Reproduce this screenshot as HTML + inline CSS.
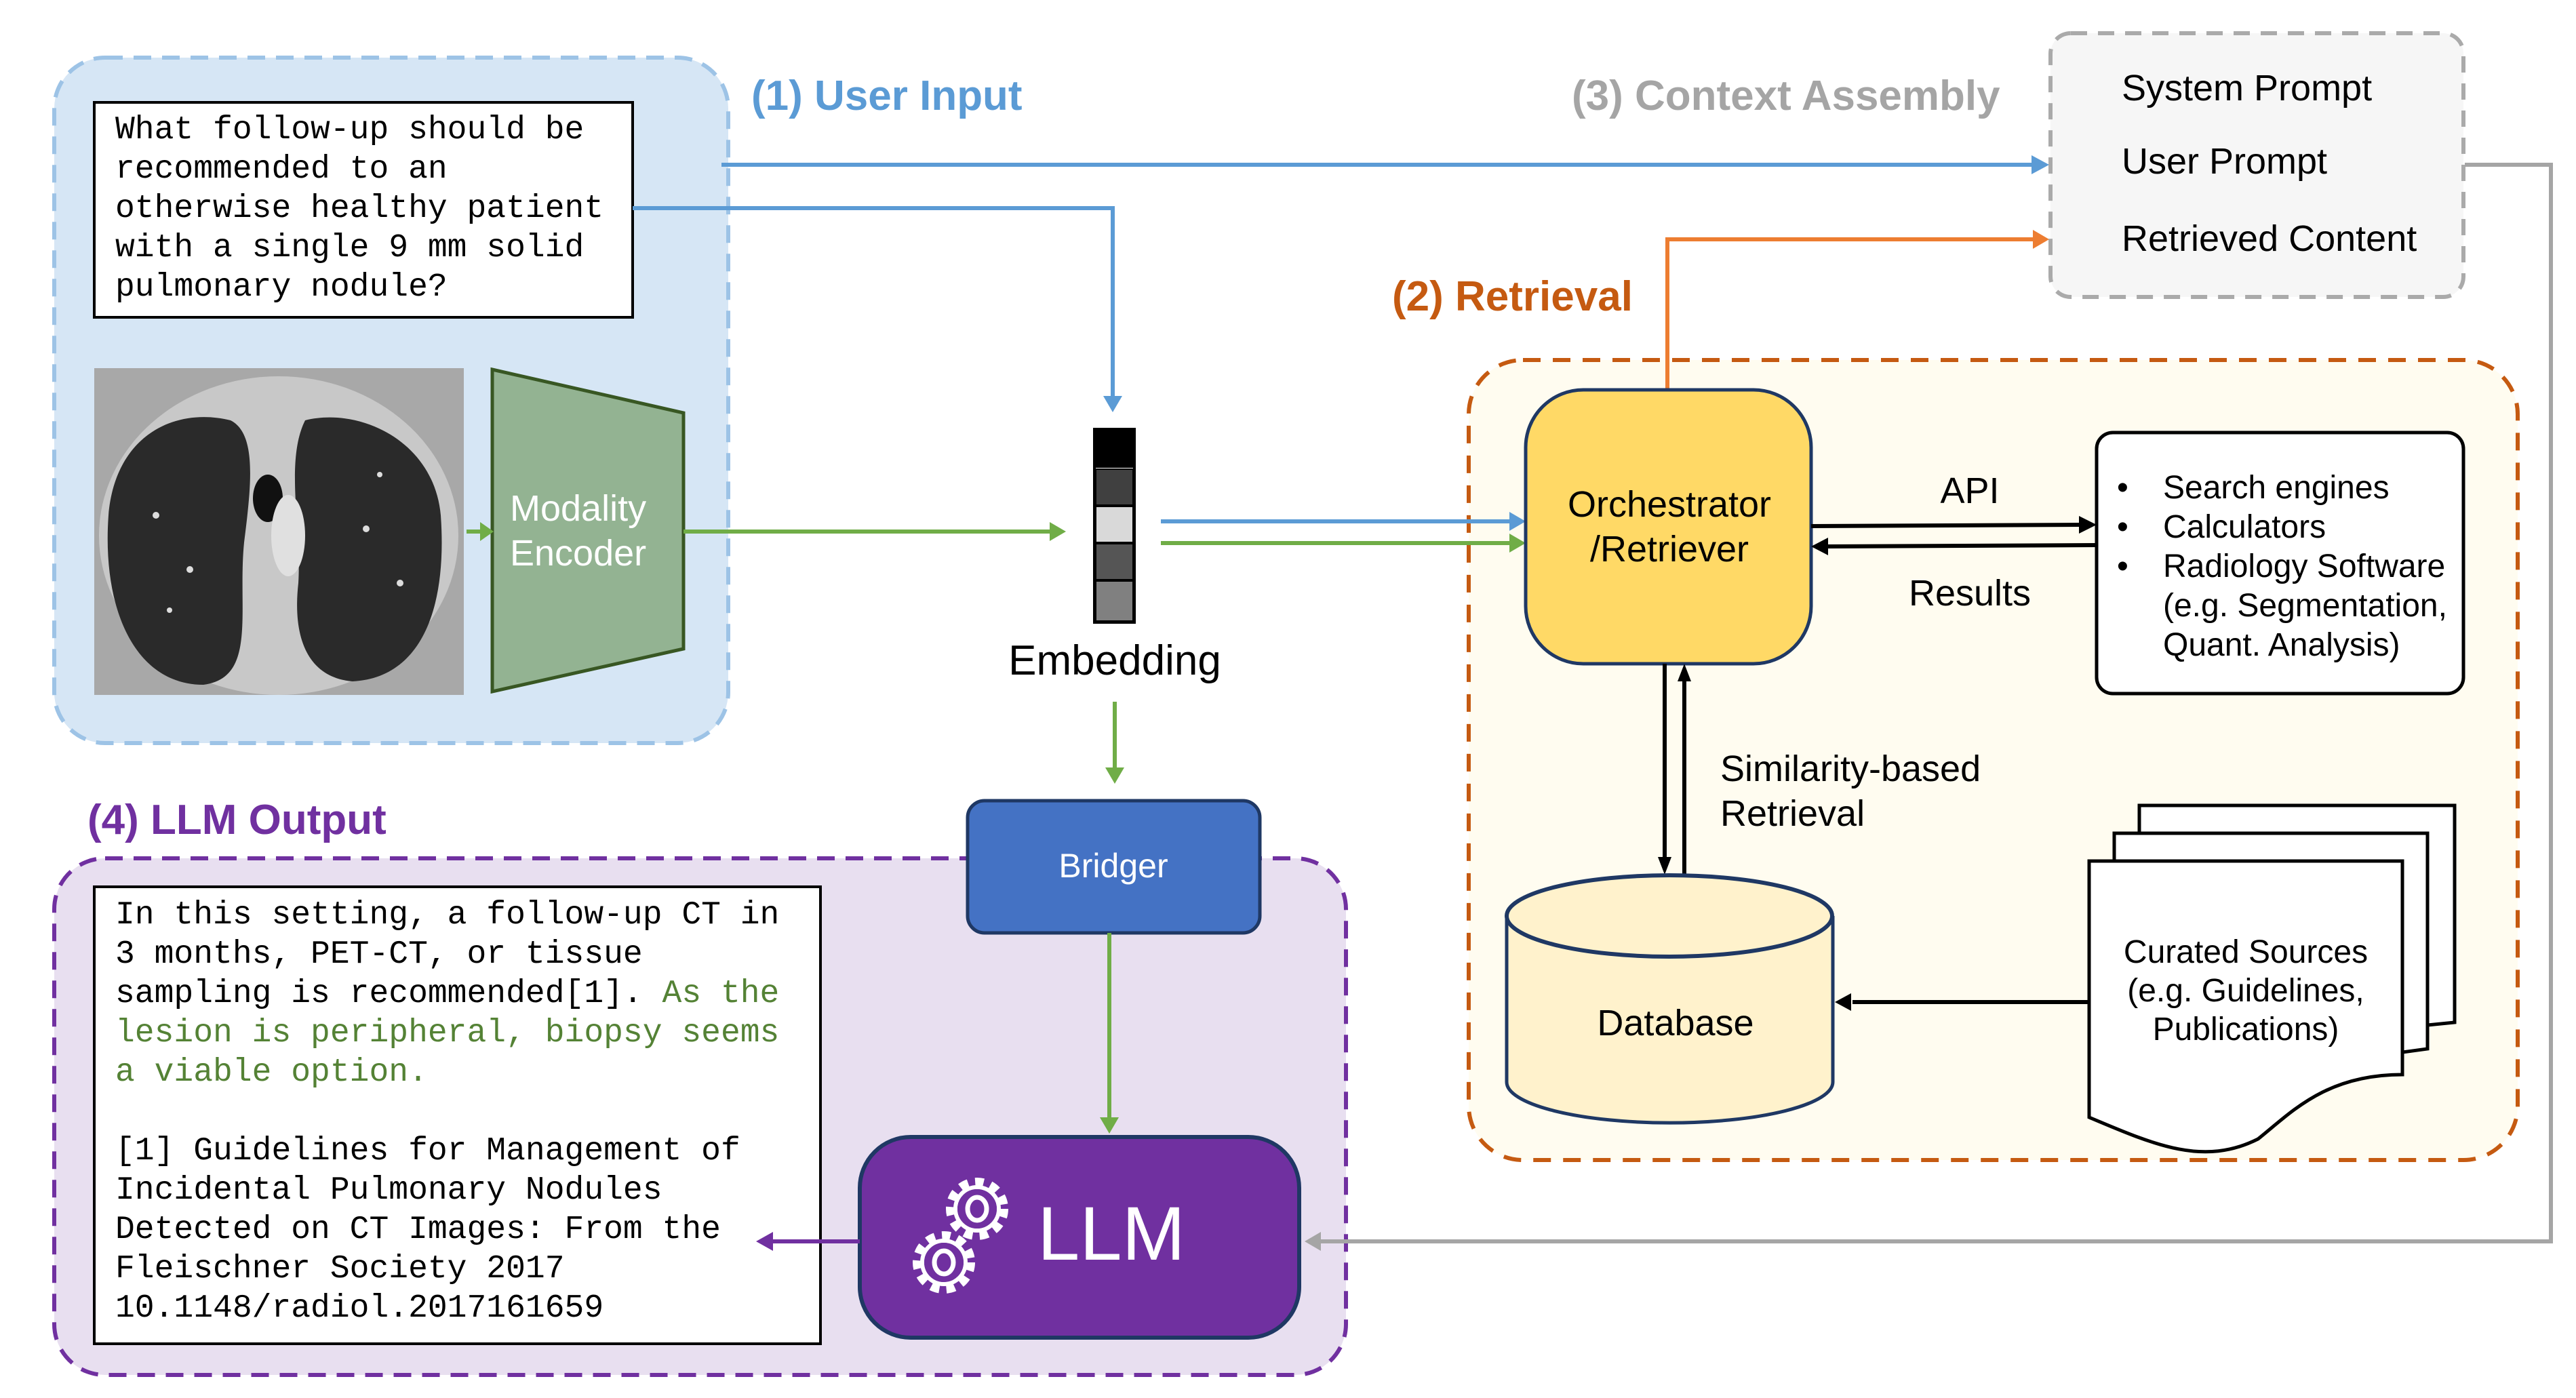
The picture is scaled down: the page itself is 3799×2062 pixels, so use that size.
<!DOCTYPE html>
<html><head><meta charset="utf-8"><style>html,body{margin:0;padding:0;background:#fff}svg{display:block}</style></head>
<body>
<svg width="3799" height="2062" viewBox="0 0 3799 2062" xmlns="http://www.w3.org/2000/svg" font-family="'Liberation Sans', sans-serif">
<!-- groups first -->
<rect x="80" y="85" width="994" height="1011" rx="75" fill="#d6e6f5" stroke="#9dc3e6" stroke-width="6" stroke-dasharray="26,16"/>
<rect x="2166" y="531" width="1547" height="1180" rx="80" fill="#fffcf0" stroke="#c55a11" stroke-width="6" stroke-dasharray="26,18"/>
<rect x="80" y="1266" width="1905" height="762" rx="75" fill="#e8dff0" stroke="#7030a0" stroke-width="6" stroke-dasharray="26,16"/>
<rect x="3024" y="49" width="609" height="389" rx="30" fill="#f6f6f6" stroke="#aaa" stroke-width="6" stroke-dasharray="24,16"/>

<text x="1108" y="162" font-size="62" font-weight="bold" fill="#5b9bd5">(1) User Input</text>
<rect x="139" y="151" width="794" height="317" fill="#fff" stroke="#000" stroke-width="4"/>
<g font-family="'Liberation Mono', monospace" font-size="48" fill="#000">
<text x="170" y="204">What follow-up should be</text>
<text x="170" y="262">recommended to an</text>
<text x="170" y="320">otherwise healthy patient</text>
<text x="170" y="378">with a single 9 mm solid</text>
<text x="170" y="436">pulmonary nodule?</text>
</g>
<!-- CT image -->
<rect x="139" y="543" width="545" height="482" fill="#a8a8a8"/>
<ellipse cx="411" cy="790" rx="265" ry="235" fill="#c8c8c8"/>
<path d="M160,760 C170,640 260,600 340,620 C380,640 370,720 360,800 C350,900 380,1000 300,1010 C200,1010 150,900 160,760z" fill="#2a2a2a"/>
<path d="M450,620 C530,600 640,650 650,760 C660,900 620,1000 520,1005 C460,1000 430,950 440,860 C445,780 420,680 450,620z" fill="#2a2a2a"/>
<ellipse cx="395" cy="735" rx="22" ry="35" fill="#111"/>
<ellipse cx="425" cy="790" rx="25" ry="60" fill="#e0e0e0"/>
<g fill="#ddd"><circle cx="230" cy="760" r="5"/><circle cx="280" cy="840" r="5"/><circle cx="540" cy="780" r="5"/><circle cx="590" cy="860" r="5"/><circle cx="250" cy="900" r="4"/><circle cx="560" cy="700" r="4"/></g>
<!-- Modality encoder -->
<polygon points="726,545 1008,609 1008,957 726,1020" fill="#93b392" stroke="#385723" stroke-width="5"/>
<text x="752" y="768" font-size="54" fill="#fff">Modality</text>
<text x="752" y="834" font-size="54" fill="#fff">Encoder</text>
<g stroke="#70ad47" stroke-width="6" fill="none">
<line x1="688" y1="784" x2="710" y2="784"/>
<line x1="1008" y1="784" x2="1552" y2="784"/>
</g>
<polygon points="708,770 728,784 708,798" fill="#70ad47"/>
<polygon points="1548,770 1572,784 1548,798" fill="#70ad47"/>
<!-- embedding -->
<rect x="1614" y="633" width="59" height="285" fill="#fff" stroke="#000" stroke-width="4"/>
<rect x="1616" y="635" width="55" height="55" fill="#000"/>
<rect x="1616" y="692" width="55" height="53" fill="#404040" stroke="#000" stroke-width="2"/>
<rect x="1616" y="747" width="55" height="53" fill="#d9d9d9" stroke="#000" stroke-width="2"/>
<rect x="1616" y="802" width="55" height="53" fill="#555" stroke="#000" stroke-width="2"/>
<rect x="1616" y="857" width="55" height="59" fill="#808080" stroke="#000" stroke-width="2"/>
<text x="1644" y="995" font-size="62" text-anchor="middle">Embedding</text>
<!-- blue lines -->
<g stroke="#5b9bd5" stroke-width="6" fill="none">
<polyline points="1064,243 3000,243"/>
<polyline points="933,307 1641,307 1641,586"/>
<line x1="1712" y1="769" x2="2228" y2="769"/>
</g>
<polygon points="2996,229 3022,243 2996,257" fill="#5b9bd5"/>
<polygon points="1627,584 1641,608 1655,584" fill="#5b9bd5"/>
<polygon points="2226,755 2250,769 2226,783" fill="#5b9bd5"/>
<line x1="1712" y1="801" x2="2228" y2="801" stroke="#70ad47" stroke-width="6"/>
<polygon points="2226,787 2250,801 2226,815" fill="#70ad47"/>
<!-- context assembly -->
<text x="2318" y="162" font-size="62" font-weight="bold" fill="#a5a5a5">(3) Context Assembly</text>
<text x="3129" y="148" font-size="54">System Prompt</text>
<text x="3129" y="256" font-size="54">User Prompt</text>
<text x="3129" y="370" font-size="54">Retrieved Content</text>
<!-- retrieval -->
<text x="2053" y="458" font-size="62" font-weight="bold" fill="#c55a11">(2) Retrieval</text>
<polyline points="2459,575 2459,353 3002,353" stroke="#ed7d31" stroke-width="6" fill="none"/>
<polygon points="2998,339 3022,353 2998,367" fill="#ed7d31"/>
<rect x="2250" y="575" width="421" height="404" rx="85" fill="#ffd966" stroke="#1f3864" stroke-width="5"/>
<text x="2462" y="762" font-size="54" text-anchor="middle">Orchestrator</text>
<text x="2462" y="828" font-size="54" text-anchor="middle">/Retriever</text>
<rect x="3092" y="638" width="541" height="385" rx="24" fill="#fff" stroke="#000" stroke-width="5"/>
<g font-size="48">
<text x="3122" y="735">•</text><text x="3190" y="735">Search engines</text>
<text x="3122" y="793">•</text><text x="3190" y="793">Calculators</text>
<text x="3122" y="851">•</text><text x="3190" y="851">Radiology Software</text>
<text x="3190" y="909">(e.g. Segmentation,</text>
<text x="3190" y="967">Quant. Analysis)</text>
</g>
<g stroke="#000" stroke-width="6" fill="none">
<line x1="2671" y1="776" x2="3070" y2="774"/>
<line x1="3092" y1="804" x2="2694" y2="806"/>
<line x1="2455" y1="979" x2="2455" y2="1270"/>
<line x1="2484" y1="1290" x2="2484" y2="1003"/>
<line x1="3081" y1="1478" x2="2732" y2="1478"/>
</g>
<polygon points="3066,761 3092,774 3066,787" fill="#000"/>
<polygon points="2696,793 2671,806 2696,819" fill="#000"/>
<polygon points="2445,1264 2455,1290 2465,1264" fill="#000"/>
<polygon points="2474,1005 2484,979 2494,1005" fill="#000"/>
<polygon points="2730,1465 2706,1478 2730,1491" fill="#000"/>
<text x="2905" y="742" font-size="54" text-anchor="middle">API</text>
<text x="2905" y="893" font-size="54" text-anchor="middle">Results</text>
<text x="2537" y="1152" font-size="54">Similarity-based</text>
<text x="2537" y="1218" font-size="54">Retrieval</text>
<!-- database -->
<path d="M2222,1351 L2222,1596 A240,60 0 0 0 2703,1596 L2703,1351" fill="#fff2cc" stroke="#1f3864" stroke-width="5"/>
<ellipse cx="2462" cy="1351" rx="240" ry="60" fill="#fff2cc" stroke="#1f3864" stroke-width="6"/>
<text x="2471" y="1527" font-size="54" text-anchor="middle">Database</text>
<!-- docs -->
<path d="M3155,1188 L3620,1188 L3620,1508 L3580,1512 L3580,1229 L3155,1229z" fill="#fff" stroke="#000" stroke-width="5"/>
<path d="M3118,1229 L3580,1229 L3580,1547 L3543,1552 L3543,1270 L3118,1270z" fill="#fff" stroke="#000" stroke-width="5"/>
<path d="M3081,1270 L3543,1270 L3543,1585 C3430,1585 3380,1640 3330,1680 C3250,1720 3180,1690 3081,1648 Z" fill="#fff" stroke="#000" stroke-width="5"/>
<text x="3312" y="1420" font-size="48" text-anchor="middle">Curated Sources</text>
<text x="3312" y="1477" font-size="48" text-anchor="middle">(e.g. Guidelines,</text>
<text x="3312" y="1534" font-size="48" text-anchor="middle">Publications)</text>
<!-- LLM output -->
<text x="129" y="1230" font-size="62" font-weight="bold" fill="#7030a0">(4) LLM Output</text>
<line x1="1644" y1="1035" x2="1644" y2="1135" stroke="#70ad47" stroke-width="6"/>
<polygon points="1630,1132 1644,1156 1658,1132" fill="#70ad47"/>
<rect x="1427" y="1181" width="431" height="195" rx="25" fill="#4472c4" stroke="#1f3864" stroke-width="5"/>
<text x="1642" y="1294" font-size="50" fill="#fff" text-anchor="middle">Bridger</text>
<line x1="1636" y1="1376" x2="1636" y2="1650" stroke="#70ad47" stroke-width="6"/>
<polygon points="1622,1648 1636,1672 1650,1648" fill="#70ad47"/>
<!-- gray return -->
<polyline points="3635,243 3762,243 3762,1831 1945,1831" stroke="#a5a5a5" stroke-width="6" fill="none"/>
<polygon points="1948,1817 1924,1831 1948,1845" fill="#a5a5a5"/>
<rect x="1268" y="1677" width="648" height="296" rx="75" fill="#7030a0" stroke="#1f3864" stroke-width="6"/>
<g fill="none" stroke="#fff">
<circle cx="1441" cy="1783" r="38" stroke-dasharray="12,10" stroke-width="16"/>
<circle cx="1441" cy="1783" r="32" stroke-width="6"/>
<ellipse cx="1441" cy="1783" rx="14" ry="17" stroke-width="7"/>
<circle cx="1392" cy="1862" r="38" stroke-dasharray="12,10" stroke-width="16"/>
<circle cx="1392" cy="1862" r="32" stroke-width="6"/>
<ellipse cx="1392" cy="1862" rx="14" ry="17" stroke-width="7"/>
</g>
<circle cx="1441" cy="1783" r="26" fill="none" stroke="#7030a0" stroke-width="6"/>
<circle cx="1392" cy="1862" r="26" fill="none" stroke="#7030a0" stroke-width="6"/>
<text x="1530" y="1858" font-size="112" fill="#fff">LLM</text>
<rect x="139" y="1308" width="1071" height="674" fill="#fff" stroke="#000" stroke-width="4"/>
<g font-family="'Liberation Mono', monospace" font-size="48" fill="#000">
<text x="170" y="1362">In this setting, a follow-up CT in</text>
<text x="170" y="1420">3 months, PET-CT, or tissue</text>
<text x="170" y="1478">sampling is recommended[1]. <tspan fill="#548235">As the</tspan></text>
<text x="170" y="1536" fill="#548235">lesion is peripheral, biopsy seems</text>
<text x="170" y="1594" fill="#548235">a viable option.</text>
<text x="170" y="1710">[1] Guidelines for Management of</text>
<text x="170" y="1768">Incidental Pulmonary Nodules</text>
<text x="170" y="1826">Detected on CT Images: From the</text>
<text x="170" y="1884">Fleischner Society 2017</text>
<text x="170" y="1942">10.1148/radiol.2017161659</text>
</g>
<line x1="1268" y1="1831" x2="1135" y2="1831" stroke="#7030a0" stroke-width="6"/>
<polygon points="1140,1817 1115,1831 1140,1845" fill="#7030a0"/>
</svg>
</body></html>
